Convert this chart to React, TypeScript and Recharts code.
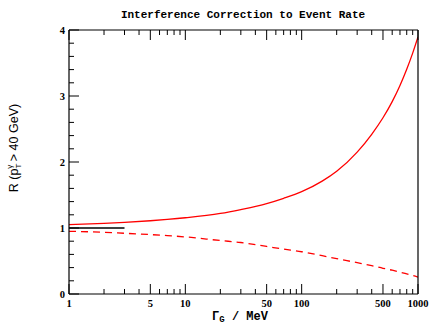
import React from 'react';
import { LineChart, Line, XAxis, YAxis } from 'recharts';

// Γ_G in MeV (log axis) and the ratio R for the two curves
const widthsMeV = [1, 2, 3, 5, 7, 10, 20, 30, 50, 70, 100, 150, 200, 300, 400, 500, 600, 700, 800, 900, 1000];
const rSolid = [1.05, 1.07, 1.085, 1.11, 1.13, 1.155, 1.22, 1.28, 1.37, 1.45, 1.55, 1.71, 1.86, 2.15, 2.42, 2.67, 2.915, 3.16, 3.405, 3.65, 3.895];
const rDashed = [0.95, 0.935, 0.92, 0.9, 0.885, 0.865, 0.81, 0.78, 0.72, 0.68, 0.64, 0.58, 0.535, 0.475, 0.43, 0.39, 0.36, 0.33, 0.305, 0.28, 0.255];

// short black reference segment at R = 1
const refWidths = [1, 3];
const refR = [1, 1];

const xTicks = [1, 2, 3, 4, 5, 6, 7, 8, 9, 10, 20, 30, 40, 50, 60, 70, 80, 90, 100, 200, 300, 400, 500, 600, 700, 800, 900, 1000];
const xLabelled = [1, 5, 10, 50, 100, 500, 1000];
const yTicks = [0, 0.2, 0.4, 0.6, 0.8, 1, 1.2, 1.4, 1.6, 1.8, 2, 2.2, 2.4, 2.6, 2.8, 3, 3.2, 3.4, 3.6, 3.8, 4];
const yLabelled = [0, 1, 2, 3, 4];

const solidData = widthsMeV.map((g, i) => ({ g, r: rSolid[i] }));
const dashedData = widthsMeV.map((g, i) => ({ g, r: rDashed[i] }));
const refData = refWidths.map((g, i) => ({ g, r: refR[i] }));

const tickFont = { fontFamily: 'Liberation Serif', fontWeight: 700, fontSize: 10.5, fill: '#000' };

const isMajorY = (v: number) => yLabelled.some((l) => Math.abs(l - v) < 1e-6);

const BottomTick = (props: any) => {
  const { x, y, payload } = props;
  const major = xLabelled.includes(payload.value);
  return (
    <g>
      <line x1={x} y1={y} x2={x} y2={y - (major ? 10 : 5)} stroke="#000" strokeWidth={1} />
      {major && (
        <text x={x} y={y + 13} textAnchor="middle" {...tickFont}>
          {payload.value}
        </text>
      )}
    </g>
  );
};

const TopTick = (props: any) => {
  const { x, y, payload } = props;
  const major = xLabelled.includes(payload.value);
  return <line x1={x} y1={y} x2={x} y2={y + (major ? 10 : 5)} stroke="#000" strokeWidth={1} />;
};

const LeftTick = (props: any) => {
  const { x, y, payload } = props;
  const major = isMajorY(payload.value);
  return (
    <g>
      <line x1={x} y1={y} x2={x + (major ? 10 : 5)} y2={y} stroke="#000" strokeWidth={1} />
      {major && (
        <text x={x - 4} y={y + 4} textAnchor="end" {...tickFont}>
          {payload.value}
        </text>
      )}
    </g>
  );
};

const RightTick = (props: any) => {
  const { x, y, payload } = props;
  const major = isMajorY(payload.value);
  return <line x1={x} y1={y} x2={x - (major ? 10 : 5)} y2={y} stroke="#000" strokeWidth={1} />;
};

const axisLine = { stroke: '#000', strokeWidth: 1.2 };

export default function App() {
  return (
    <div style={{ position: 'absolute', left: 0, top: 0, width: 430, height: 325, background: '#fff' }}>
      <LineChart width={430} height={325} margin={{ top: 0, right: 0, bottom: 0, left: 0 }}>
        <XAxis
          xAxisId="bottom"
          dataKey="g"
          type="number"
          scale="log"
          domain={[1, 1000]}
          allowDataOverflow
          ticks={xTicks}
          interval={0}
          height={31}
          tickSize={0}
          tickMargin={0}
          tickLine={false}
          axisLine={axisLine}
          tick={<BottomTick />}
        />
        <XAxis
          xAxisId="top"
          orientation="top"
          dataKey="g"
          type="number"
          scale="log"
          domain={[1, 1000]}
          allowDataOverflow
          ticks={xTicks}
          interval={0}
          height={30}
          tickSize={0}
          tickMargin={0}
          tickLine={false}
          axisLine={axisLine}
          tick={<TopTick />}
        />
        <YAxis
          yAxisId="left"
          type="number"
          domain={[0, 4]}
          ticks={yTicks}
          interval={0}
          width={69}
          tickSize={0}
          tickMargin={0}
          tickLine={false}
          axisLine={axisLine}
          tick={<LeftTick />}
        />
        <YAxis
          yAxisId="right"
          orientation="right"
          type="number"
          domain={[0, 4]}
          ticks={yTicks}
          interval={0}
          width={12}
          tickSize={0}
          tickMargin={0}
          tickLine={false}
          axisLine={axisLine}
          tick={<RightTick />}
        />
        <Line
          xAxisId="bottom"
          yAxisId="left"
          data={refData}
          dataKey="r"
          type="linear"
          stroke="#000"
          strokeWidth={1.3}
          dot={false}
          activeDot={false}
          isAnimationActive={false}
        />
        <Line
          xAxisId="bottom"
          yAxisId="left"
          data={solidData}
          dataKey="r"
          type="monotone"
          stroke="#ff0000"
          strokeWidth={1.3}
          dot={false}
          activeDot={false}
          isAnimationActive={false}
        />
        <Line
          xAxisId="bottom"
          yAxisId="left"
          data={dashedData}
          dataKey="r"
          type="monotone"
          stroke="#ff0000"
          strokeWidth={1.3}
          strokeDasharray="7 5"
          dot={false}
          activeDot={false}
          isAnimationActive={false}
        />
      </LineChart>
      <svg width={430} height={325} style={{ position: 'absolute', left: 0, top: 0, pointerEvents: 'none' }}>
        <text x={243} y={18} textAnchor="middle" fontFamily="Liberation Mono" fontWeight={700} fontSize={11} fill="#000">
          Interference Correction to Event Rate
        </text>
        <text x={240} y={320} textAnchor="middle" fontFamily="Liberation Mono" fontWeight={700} fontSize={12} fill="#000">
          Γ
          <tspan fontSize={9} dy={2}>G</tspan>
          <tspan dy={-2}> / MeV</tspan>
        </text>
        <text
          transform="translate(18, 148) rotate(-90)"
          textAnchor="middle"
          fontFamily="Liberation Sans"
          fontSize={12.5}
          fill="#000"
        >
          R (p
          <tspan fontSize={8} dy={3}>T</tspan>
          <tspan fontSize={8} dx={-5} dy={-9}>γ</tspan>
          <tspan dy={6}> &gt; 40 GeV)</tspan>
        </text>
      </svg>
    </div>
  );
}
